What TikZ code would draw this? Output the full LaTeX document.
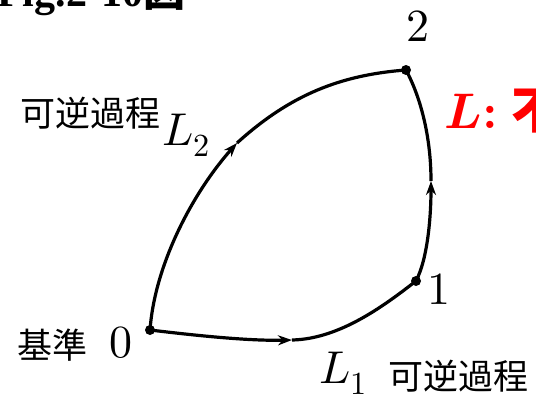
\documentclass[tikz,border=0pt]{standalone}
\usepackage{fontspec}
\usepackage{unicode-math}
\setmathfont{Latin Modern Math}
\newfontfamily\jp{Noto Sans CJK JP}
\newfontfamily\titlefont{Liberation Serif}
\usetikzlibrary{arrows.meta}
\begin{document}
\begin{tikzpicture}[x=1pt,y=-1pt,
  curve/.style={line width=3.2pt},
  arr/.style={curve,-{Stealth[length=14pt,width=10pt]}},
  dot/.style={circle,fill,inner sep=0pt,minimum size=10pt},
  jplabel/.style={font=\jp\fontsize{35}{40}\selectfont,inner sep=0pt},
  num/.style={font=\fontsize{46}{50}\selectfont,inner sep=0pt},
  redlabel/.style={font=\fontsize{50}{54}\selectfont,text=red,inner sep=0pt},
  titlelabel/.style={font=\fontsize{42}{46}\selectfont,inner sep=0pt},
  ]
\useasboundingbox (0,0) rectangle (536,399);
\clip (0,0) rectangle (536,399);

% points
\node[dot] (p0) at (150,330) {};
\node[dot] (p1) at (416,281) {};
\node[dot] (p2) at (406,70) {};
\coordinate (m1) at (292,340);
\coordinate (m2) at (237,143);
\coordinate (m3) at (431,181);

% L1
\draw[arr] (p0.center) .. controls (200,336) and (250,341) .. (m1);
\draw[curve] (m1) .. controls (340,339) and (385,305) .. (p1.center);
% L2
\draw[arr] (p0.center) .. controls (155,262) and (195,190) .. (m2);
\draw[curve] (m2) .. controls (290,95) and (340,75) .. (p2.center);
% L
\draw[arr] (p1.center) .. controls (428,258) and (431,215) .. (m3);
\draw[curve] (m3) .. controls (431,140) and (422,100) .. (p2.center);

% labels
\node[titlelabel,anchor=base west] (title) at (-3,6) {{\titlefont\bfseries Fig.2-10}{\jp\bfseries 図}};
\node[num] (l2) at (418,26) {$2$};
\node[num] (l1) at (439,289) {$1$};
\node[num] (l0) at (121,343) {$0$};
\node[jplabel] (kijun) at (52,345) {基準};
\node[jplabel] (rev2) at (90,113) {可逆過程};
\node[num] (L2) at (186,135) {$L_2$};
\node[num] (L1) at (343,373) {$L_1$};
\node[jplabel] (rev1) at (458,376) {可逆過程};
\node[redlabel,anchor=base west] (Lirr) at (444,128) {$\symbfit{L}$\textbf{:}\hspace{14pt}{\jp\bfseries 不可逆過程}};
\end{tikzpicture}
\end{document}
